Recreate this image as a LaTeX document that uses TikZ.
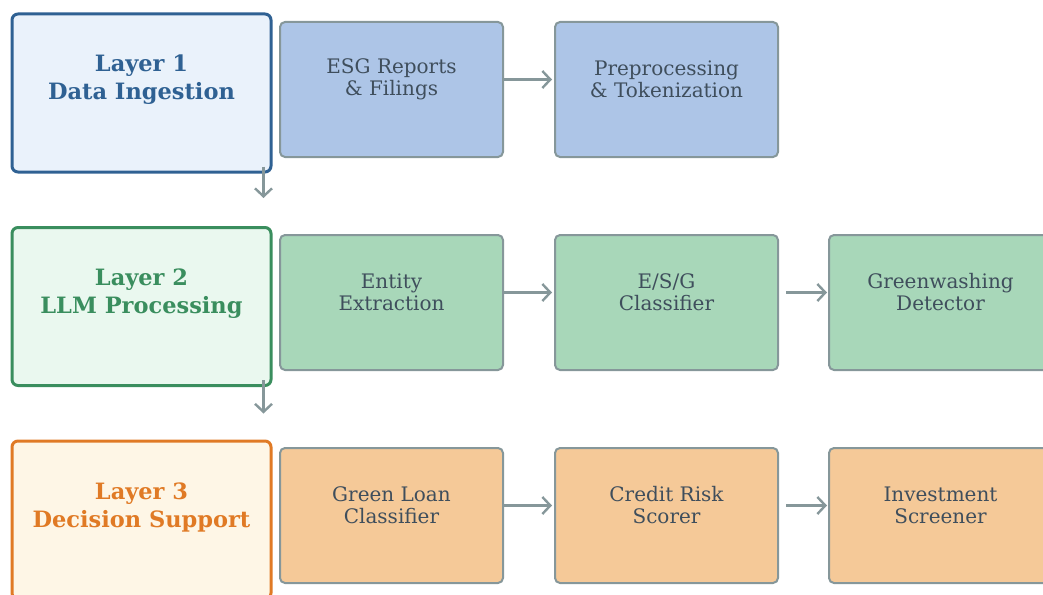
\documentclass[tikz,border=0pt]{standalone}
\usepackage{fontspec}
\setmainfont{DejaVu Serif}
\usetikzlibrary{arrows.meta,positioning}

\definecolor{edgegray}{HTML}{86979A}
\definecolor{txtgray}{HTML}{3F4E5C}
\definecolor{blueline}{HTML}{2F6193}
\definecolor{bluepale}{HTML}{EAF2FB}
\definecolor{bluefill}{HTML}{ADC5E7}
\definecolor{greenline}{HTML}{3A8E5E}
\definecolor{greenpale}{HTML}{EAF8EF}
\definecolor{greenfill}{HTML}{A8D7B9}
\definecolor{orangeline}{HTML}{E07A25}
\definecolor{orangepale}{HTML}{FEF6E6}
\definecolor{orangefill}{HTML}{F5C998}

\tikzset{
  layerbox/.style={draw=#1line, fill=#1pale, line width=3pt, rounded corners=6pt,
    minimum width=259pt, minimum height=158pt, inner sep=0pt},
  layertext/.style={text=#1line, font=\fontsize{22.5}{28}\selectfont\bfseries, align=center},
  compbox/.style={draw=edgegray, fill=#1fill, line width=2pt, rounded corners=5pt,
    minimum width=223pt, minimum height=135pt, inner sep=0pt},
  comptext/.style={text=txtgray, font=\fontsize{20}{22}\selectfont, align=center},
  flow/.style={draw=edgegray, line width=2.4pt, -{Straight Barb[length=8pt,width=17pt,line width=2.4pt]}},
}

\begin{document}
\begin{tikzpicture}[x=1pt,y=-1pt]
  \useasboundingbox (0,0) rectangle (1043,594);
  \clip (0,0) rectangle (1043,594);

  % layer boxes on the left
  \node[layerbox=blue]   (L1) at (141.5,93)  {};
  \node[layerbox=green]  (L2) at (141.5,306.5) {};
  \node[layerbox=orange] (L3) at (141.5,520) {};
  \node[layertext=blue]   (L1t) at ([yshift=13pt]L1.center) {Layer 1\\Data Ingestion};
  \node[layertext=green]  (L2t) at ([yshift=13pt]L2.center) {Layer 2\\LLM Processing};
  \node[layertext=orange] (L3t) at ([yshift=13pt]L3.center) {Layer 3\\Decision Support};

  % row 1: ingestion
  \node[compbox=blue] (a1) at (391.5,89.5) {};
  \node[compbox=blue] (a2) at (666.5,89.5) {};
  \node[comptext] (a1t) at ([yshift=10pt]a1.center) {ESG Reports\\\& Filings};
  \node[comptext] (a2t) at ([yshift=10pt]a2.center) {Preprocessing\\\& Tokenization};

  % row 2: processing
  \node[compbox=green] (b1) at (391.5,302.5) {};
  \node[compbox=green] (b2) at (666.5,302.5) {};
  \node[compbox=green] (b3) at (940.5,302.5) {};
  \node[comptext] (b1t) at ([yshift=10pt]b1.center) {Entity\\Extraction};
  \node[comptext] (b2t) at ([yshift=10pt]b2.center) {E/S/G\\Classifier};
  \node[comptext] (b3t) at ([yshift=10pt]b3.center) {Greenwashing\\Detector};

  % row 3: decision support
  \node[compbox=orange] (c1) at (391.5,515.5) {};
  \node[compbox=orange] (c2) at (666.5,515.5) {};
  \node[compbox=orange] (c3) at (940.5,515.5) {};
  \node[comptext] (c1t) at ([yshift=10pt]c1.center) {Green Loan\\Classifier};
  \node[comptext] (c2t) at ([yshift=10pt]c2.center) {Credit Risk\\Scorer};
  \node[comptext] (c3t) at ([yshift=10pt]c3.center) {Investment\\Screener};

  % horizontal flow inside each layer
  \draw[flow] ([yshift=10pt]a1.east) -- ([yshift=10pt,xshift=-2pt]a2.west);
  \draw[flow] ([yshift=10pt]b1.east) -- ([yshift=10pt,xshift=-2pt]b2.west);
  \draw[flow] ([yshift=10pt,xshift=7pt]b2.east) -- ([yshift=10pt,xshift=-1pt]b3.west);
  \draw[flow] ([yshift=10pt]c1.east) -- ([yshift=10pt,xshift=-2pt]c2.west);
  \draw[flow] ([yshift=10pt,xshift=7pt]c2.east) -- ([yshift=10pt,xshift=-1pt]c3.west);

  % vertical flow between layers
  \draw[flow] ([xshift=-9pt,yshift=7pt]L1.south east) -- ([xshift=-9pt,yshift=28pt]L2.north east);
  \draw[flow] ([xshift=-9pt,yshift=7pt]L2.south east) -- ([xshift=-9pt,yshift=26pt]L3.north east);
\end{tikzpicture}
\end{document}
